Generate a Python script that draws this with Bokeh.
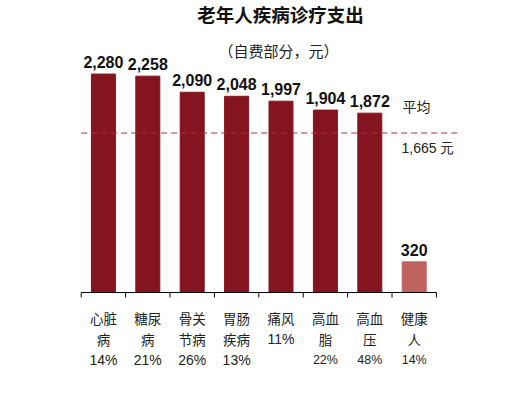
from bokeh.plotting import figure
from bokeh.models import ColumnDataSource, Range1d, Label
from bokeh.core.properties import value
from bokeh.embed import file_html
from bokeh.resources import INLINE

# ---- data ----
diseases = ["心脏病", "糖尿病", "骨关节病", "胃肠疾病", "痛风", "高血脂", "高血压", "健康人"]
spend = [2280, 2258, 2090, 2048, 1997, 1904, 1872, 320]
share = [14, 21, 26, 13, 11, 22, 48, 14]
average = 1665
title_text = "老年人疾病诊疗支出"
subtitle_text = "（自费部分，元）"
avg_label = "平均"
unit = "元"

# ---- layout ----
W, H = 496, 377
cat_px = 44.4          # pixels per category
axis_left_px = 80.7    # x of axis start
px_per_unit = 0.0958   # vertical pixels per yuan
base_from_bottom = H - 292  # baseline pixels above bottom

x0 = -axis_left_px / cat_px
y0 = -base_from_bottom / px_per_unit
p = figure(width=W, height=H, output_backend="svg", toolbar_location=None,
           x_range=Range1d(x0, x0 + W / cat_px),
           y_range=Range1d(y0, y0 + H / px_per_unit),
           min_border=0)
p.axis.visible = False
p.grid.visible = False
p.outline_line_color = None
p.background_fill_color = "white"

n = len(diseases)
xs = [i + 0.5 for i in range(n)]
colors = ["#84141F"] * (n - 1) + ["#C0625F"]
src = ColumnDataSource(dict(x=xs, top=spend, color=colors,
                            lbl=[f"{v:,}" for v in spend]))
p.vbar(x="x", top="top", bottom=0, width=24 / cat_px, color="color", source=src)

# average line
p.segment(x0=[0], y0=[average], x1=[n + 0.53], y1=[average],
          line_color="#A03442", line_width=1.2, line_dash="6 4")

# value labels
p.text(x="x", y="top", text="lbl", source=src, text_align="center",
       text_baseline="middle", y_offset=-12,
       text_font=value("Liberation Sans"), text_font_style="bold",
       text_font_size="16px", text_color="#111111")

# baseline axis and ticks
tick_len = 5 / px_per_unit
p.segment(x0=[0], y0=[0], x1=[n], y1=[0], line_color="black", line_width=1)
p.segment(x0=list(range(n + 1)), y0=[0] * (n + 1), x1=list(range(n + 1)),
          y1=[-tick_len] * (n + 1), line_color="black", line_width=1)

# category labels: name wrapped in 2 chars per line, then share
lx, ly, lt, lf, ls, lo = [], [], [], [], [], []
for i, name in enumerate(diseases):
    lines = [name[k:k + 2] for k in range(0, len(name), 2)]
    for j, ln in enumerate(lines):
        lx.append(xs[i]); ly.append(0); lt.append(ln)
        lf.append("Noto Sans CJK SC"); ls.append("13.5px"); lo.append(25 + 21 * j)
    lx.append(xs[i]); ly.append(0); lt.append(f"{share[i]}%")
    lf.append("Liberation Sans"); ls.append("14px" if i < 5 else "12.5px")
    lo.append(25 + 21 * len(lines))
csrc = ColumnDataSource(dict(x=lx, y=ly, t=lt, f=lf, s=ls, o=lo))
p.text(x="x", y="y", text="t", text_font="f", text_font_size="s", y_offset="o",
       source=csrc, text_align="center", text_baseline="middle", text_color="#222222")

# titles and annotation texts
p.add_layout(Label(x=280, y=H - 13, x_units="screen", y_units="screen", text=title_text,
                   text_font="Noto Sans CJK SC", text_font_style="bold",
                   text_font_size="18.5px", text_align="center", text_baseline="middle",
                   text_color="#111111"))
p.add_layout(Label(x=278, y=H - 50, x_units="screen", y_units="screen", text=subtitle_text,
                   text_font="Noto Sans CJK SC", text_font_size="15px",
                   text_align="center", text_baseline="middle", text_color="#222222"))
p.add_layout(Label(x=402, y=H - 105, x_units="screen", y_units="screen", text=avg_label,
                   text_font="Noto Sans CJK SC", text_font_size="14px",
                   text_align="left", text_baseline="middle", text_color="#222222"))
p.add_layout(Label(x=401, y=H - 147, x_units="screen", y_units="screen",
                   text=f"{average:,} {unit}",
                   text_font="Liberation Sans", text_font_size="14px",
                   text_align="left", text_baseline="middle", text_color="#222222"))

open("out.html", "w").write(file_html(p, INLINE))
